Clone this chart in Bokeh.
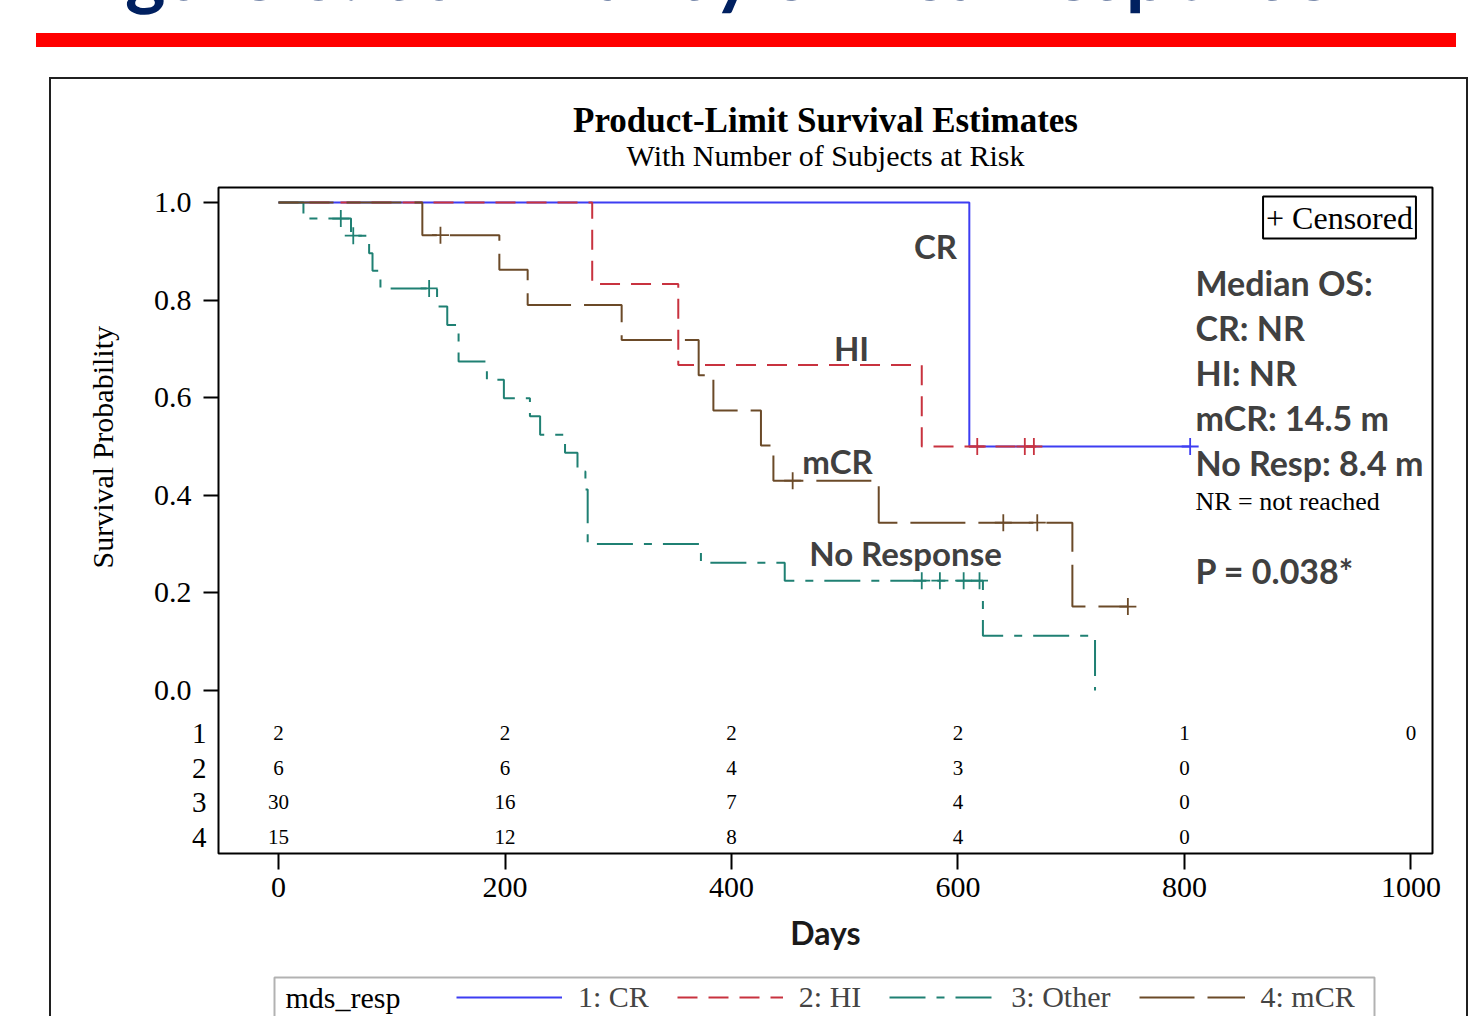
from bokeh.plotting import figure
from bokeh.layouts import column, row
from bokeh.models import (Range1d, FixedTicker, PrintfTickFormatter, Label, Legend, LegendItem,
                          ColumnDataSource, LinearAxis, Title, Div, BoxAnnotation)
from bokeh.core.properties import value
from bokeh.embed import file_html
from bokeh.resources import INLINE

# ---------------- data ----------------
groups = ["1: CR", "2: HI", "3: Other", "4: mCR"]
legend_title = "mds_resp"

cr_t = [0, 610, 805]
cr_s = [1.0, 0.5, 0.5]
cr_cens_t = [805]
cr_cens_s = [0.5]

hi_t = [0, 277, 353, 568, 669]
hi_s = [1.0, 0.833, 0.667, 0.5, 0.5]
hi_cens_t = [617, 659, 667]
hi_cens_s = [0.5, 0.5, 0.5]

oth_t = [0, 22, 64, 80, 83, 90, 140, 149, 159, 184, 199, 222, 231, 253, 264, 271, 273,
         373, 447, 622, 721]
oth_s = [1.0, 0.967, 0.932, 0.896, 0.860, 0.824, 0.787, 0.749, 0.674, 0.637, 0.599, 0.562,
         0.524, 0.487, 0.449, 0.412, 0.300, 0.262, 0.225, 0.112, 0.0]
oth_cens_t = [55, 66, 133, 568, 584, 605, 619]
oth_cens_s = [0.967, 0.932, 0.824, 0.225, 0.225, 0.225, 0.225]

mcr_t = [0, 127, 195, 220, 303, 371, 384, 426, 437, 530, 701, 750]
mcr_s = [1.0, 0.933, 0.862, 0.790, 0.718, 0.646, 0.574, 0.502, 0.430, 0.344, 0.172, 0.172]
mcr_cens_t = [143, 454, 640, 670, 750]
mcr_cens_s = [0.933, 0.430, 0.344, 0.344, 0.172]

risk_times = [0, 200, 400, 600, 800, 1000]
risk_cr = ["2", "2", "2", "2", "1", "0"]
risk_hi = ["6", "6", "4", "3", "0", ""]
risk_oth = ["30", "16", "7", "4", "0", ""]
risk_mcr = ["15", "12", "8", "4", "0", ""]
risk_rows = ["1", "2", "3", "4"]

y_ticks = [0.0, 0.2, 0.4, 0.6, 0.8, 1.0]
x_ticks = [0, 200, 400, 600, 800, 1000]

curve_labels = ["CR", "HI", "mCR", "No Response"]
side_lines = ["Median OS:", "CR: NR", "HI: NR", "mCR: 14.5 m", "No Resp: 8.4 m"]
slide_title = "Figure 3: Survival by clinical response"

# ---------------- geometry (page pixels) ----------------
PW, PH = 1471, 1016
BOX_L, BOX_T, BOX_R = 51, 79, 1466          # slide box that holds the chart
FL, FR, FT, FB = 218, 1432, 187, 853         # plot frame in page pixels
LEG_T = 975                                  # top of the legend strip
X0, X1 = -53.0, 1019.0
Y0, Y1 = -163 / 488, 1 + 15 / 488


def px2x(px):
    return X0 + (px - FL) * (X1 - X0) / (FR - FL)


def py2y(py):
    return Y1 - (py - FT) * (Y1 - Y0) / (FB - FT)


SERIF = "Liberation Serif"
SANS = "Lato"
GRAY = "#404040"
C_CR, C_HI, C_OTH, C_MCR = "#3d3df2", "#c8323f", "#1f8073", "#6b4a28"
STYLES = [dict(line_color=C_CR, line_width=2),
          dict(line_color=C_HI, line_width=2, line_dash="20 11"),
          dict(line_color=C_OTH, line_width=2, line_dash="36 11 8 11"),
          dict(line_color=C_MCR, line_width=2, line_dash="55 13")]

FW, FH = BOX_R - BOX_L, LEG_T - BOX_T
p = figure(width=FW, height=FH, x_range=Range1d(X0, X1), y_range=Range1d(Y0, Y1),
           output_backend="svg", toolbar_location=None,
           min_border_left=FL - BOX_L, min_border_right=BOX_R - FR,
           min_border_top=FT - BOX_T, min_border_bottom=LEG_T - FB, margin=0)
p.background_fill_color = "white"
p.border_fill_color = "white"
p.outline_line_color = "black"
p.outline_line_width = 2
p.grid.visible = False

# titles (first added sits closest to the frame)
p.add_layout(Title(text="With Number of Subjects at Risk", align="center", text_font=SERIF,
                   text_font_size="30px", text_font_style="normal", text_color="black",
                   standoff=32), "above")
p.add_layout(Title(text="Product-Limit Survival Estimates", align="center", text_font=SERIF,
                   text_font_size="35px", text_font_style="bold", text_color="black",
                   standoff=-38), "above")

# axes
yax = p.yaxis[0]
xax = p.xaxis[0]
yax.ticker = FixedTicker(ticks=y_ticks)
yax.formatter = PrintfTickFormatter(format="%.1f")
xax.ticker = FixedTicker(ticks=x_ticks)
for ax in (xax, yax):
    ax.axis_line_color = None
    ax.major_tick_line_color = "black"
    ax.major_tick_line_width = 2
    ax.major_tick_in = 0
    ax.minor_tick_line_color = None
    ax.major_label_text_font = SERIF
    ax.major_label_text_font_size = "30px"
    ax.major_label_text_color = "black"
yax.major_tick_out = 15
yax.major_label_standoff = 12
xax.major_tick_out = 16
xax.major_label_standoff = 8
xax.axis_label = "Days"
xax.axis_label_text_font = SANS
xax.axis_label_text_font_style = "bold"
xax.axis_label_text_font_size = "32px"
xax.axis_label_text_color = "#1a1a1a"
xax.axis_label_standoff = 13

# y-axis title placed along the 0-1 probability span
p.add_layout(Title(text="Survival Probability", align="left", offset=FB - 568, standoff=64,
                   text_font=SERIF, text_font_size="30px", text_font_style="normal",
                   text_color="black"), "left")

# at-risk row numbers on an outer left axis pulled back toward the frame
row_y = [round(py2y(v), 4) for v in (733, 768, 802, 837)]
row_axis = LinearAxis(ticker=FixedTicker(ticks=row_y),
                      major_label_overrides={yy: lab for yy, lab in zip(row_y, risk_rows)},
                      axis_line_color=None, major_tick_line_color=None, major_tick_out=0,
                      major_tick_in=0, minor_tick_line_color=None, major_label_standoff=-155,
                      major_label_text_font=SERIF, major_label_text_font_size="29px",
                      major_label_text_color="black")
p.add_layout(row_axis, "left")

# curves
series = [(cr_t, cr_s, cr_cens_t, cr_cens_s), (hi_t, hi_s, hi_cens_t, hi_cens_s),
          (oth_t, oth_s, oth_cens_t, oth_cens_s), (mcr_t, mcr_s, mcr_cens_t, mcr_cens_s)]
for (t, s, ct, cs), st in zip(series, STYLES):
    p.step(x=t, y=s, mode="after", **st)
    p.scatter(x=ct, y=cs, marker="cross", size=17, line_color=st["line_color"],
              line_width=1.8)

# at-risk table
for counts, yy in zip((risk_cr, risk_hi, risk_oth, risk_mcr), row_y):
    src = ColumnDataSource(dict(x=risk_times, y=[yy] * len(risk_times), t=counts))
    p.text(x="x", y="y", text="t", source=src, text_font=value(SERIF),
           text_font_size="21px", text_align="center", text_baseline="middle",
           text_color="black")

# censored key
p.add_layout(Label(x=px2x(1339), y=py2y(217), text="+ Censored", text_font=SERIF,
                   text_font_size="32px", text_align="center", text_baseline="middle",
                   border_line_color="black", border_line_width=2, padding=3,
                   background_fill_color="white", text_color="black"))

# curve labels
for txt, (cx, cy) in zip(curve_labels, [(935, 245), (851, 347), (837, 460), (905, 552)]):
    p.add_layout(Label(x=px2x(cx), y=py2y(cy), text=txt, text_font=SANS,
                       text_font_style="bold", text_font_size="33px", text_color=GRAY,
                       text_align="center", text_baseline="middle"))

# median OS block
for txt, cy in zip(side_lines, [282, 327, 372, 417, 462]):
    p.add_layout(Label(x=px2x(1195), y=py2y(cy), text=txt, text_font=SANS,
                       text_font_style="bold", text_font_size="34px", text_color=GRAY,
                       text_align="left", text_baseline="middle"))
p.add_layout(Label(x=px2x(1195), y=py2y(501), text="NR = not reached", text_font=SERIF,
                   text_font_size="26px", text_color="black", text_align="left",
                   text_baseline="middle"))
p.add_layout(Label(x=px2x(1195), y=py2y(570), text="P = 0.038*", text_font=SANS,
                   text_font_style="bold", text_font_size="34px", text_color=GRAY,
                   text_align="left", text_baseline="middle"))

# ---------------- legend strip (own canvas; x in page px, y in px from its top) ----------
LH = PH - LEG_T
q = figure(width=FW, height=LH, x_range=Range1d(FL, FR), y_range=Range1d(LH, 0),
           x_axis_type=None, y_axis_type=None, output_backend="svg", toolbar_location=None,
           min_border_left=FL - BOX_L, min_border_right=BOX_R - FR,
           min_border_top=0, min_border_bottom=0, margin=0)
q.outline_line_color = None
q.grid.visible = False
q.background_fill_color = "white"
q.border_fill_color = "white"
q.add_layout(BoxAnnotation(left=274, right=1374, top=977 - LEG_T, bottom=LH + 30,
                           fill_alpha=0, line_color="black", line_width=2))
q.add_layout(Label(x=285, y=997 - LEG_T, text=legend_title, text_font=SERIF,
                   text_font_size="30px", text_align="left", text_baseline="middle",
                   text_color="black"))
# hidden copies of the series, only used to draw the legend keys
key_renderers = [q.step(x=t, y=s, mode="after", visible=False, **st)
                 for (t, s, _, _), st in zip(series, STYLES)]
legend = Legend(items=[LegendItem(label=g, renderers=[r]) for g, r in zip(groups, key_renderers)],
                orientation="horizontal", location=(456 - FL, 2),
                label_text_font=SERIF, label_text_font_size="30px",
                glyph_width=106, glyph_height=20, label_standoff=16, spacing=28,
                padding=0, margin=0, border_line_color=None, background_fill_alpha=0,
                inactive_fill_alpha=0)
q.add_layout(legend)

# ---------------- slide decoration (HTML around the canvases) ----------------
header = Div(width=PW, height=BOX_T, margin=0, text=(
    f'<div style="position:relative;width:{PW}px;height:{BOX_T}px;overflow:hidden;background:#fff;">'
    f'<div style="position:absolute;left:62px;top:-68px;font-family:Lato;font-weight:bold;'
    f'font-size:77px;line-height:77px;color:#002060;white-space:nowrap;">{slide_title}</div>'
    f'<div style="position:absolute;left:36px;top:33px;width:1420px;height:14px;background:#ff0000;"></div>'
    f'<div style="position:absolute;left:{BOX_L - 2}px;top:{BOX_T - 2}px;width:{BOX_R - BOX_L + 4}px;'
    f'height:2px;background:#202020;"></div></div>'))
SH = PH - BOX_T
left_side = Div(width=BOX_L, height=SH, margin=0, text=(
    f'<div style="position:relative;width:{BOX_L}px;height:{SH}px;">'
    f'<div style="position:absolute;left:{BOX_L - 2}px;top:0;width:2px;height:{SH}px;'
    f'background:#202020;"></div></div>'))
right_side = Div(width=PW - BOX_R, height=SH, margin=0, text=(
    f'<div style="position:relative;width:{PW - BOX_R}px;height:{SH}px;">'
    f'<div style="position:absolute;left:0;top:0;width:2px;height:{SH}px;'
    f'background:#202020;"></div></div>'))

layout = column(header,
                row(left_side, column(p, q, spacing=0, margin=0), right_side,
                    spacing=0, margin=0),
                spacing=0, margin=0)

open("out.html", "w").write(file_html(layout, INLINE))
